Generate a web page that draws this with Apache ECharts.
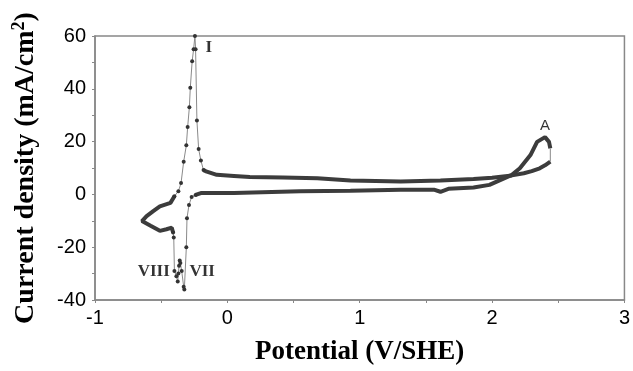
<!DOCTYPE html>
<html><head><meta charset="utf-8">
<script src="https://cdn.jsdelivr.net/npm/echarts@6/dist/echarts.min.js"></script>
<style>html,body{margin:0;padding:0;background:#fff}#c{width:633px;height:371px}</style>
</head><body><div id="c"></div>
<script>
// Reverse scan: from the anodic end back to the left (dense trace)
var reverseBranch = [[2.44,12.4],[2.40,11.0],[2.36,9.9],[2.30,8.8],[2.24,8.0],[2.15,7.2],[2.0,6.3],[1.86,5.8],[1.61,5.3],[1.31,4.9],[0.93,5.3],[0.68,6.1],[0.42,6.4],[0.17,6.6],[0.05,7.0],[-0.08,7.4],[-0.155,8.6],[-0.18,9.2]];
// Peak I (sparse dotted trace)
var peakI = [[-0.18,9.2],[-0.20,12.8],[-0.217,17.2],[-0.23,28.0],[-0.24,55.0],[-0.245,60.0],[-0.255,55.0],[-0.266,50.4],[-0.28,40.4],[-0.287,33.0],[-0.30,25.5],[-0.31,18.6],[-0.33,12.4],[-0.35,4.3],[-0.37,1.2],[-0.40,-0.7]];
// Cathodic loop to the left end (dense trace)
var cathodicLoop = [[-0.40,-0.7],[-0.43,-3.2],[-0.51,-4.5],[-0.56,-6.3],[-0.61,-8.2],[-0.645,-10.1],[-0.58,-11.9],[-0.51,-13.8],[-0.46,-13.2],[-0.42,-12.6],[-0.41,-14.4]];
// Peaks VIII and VII (sparse dotted trace)
var peaksVIIIVII = [[-0.41,-14.4],[-0.405,-16.3],[-0.40,-29.0],[-0.385,-31.0],[-0.375,-33.0],[-0.37,-30.0],[-0.365,-27.0],[-0.36,-25.0],[-0.355,-26.0],[-0.345,-29.0],[-0.33,-35.0],[-0.325,-36.0],[-0.31,-20.0],[-0.305,-9.0],[-0.29,-4.0],[-0.27,-1.0],[-0.24,-0.2]];
// Forward scan up to peak A (dense trace)
var forwardBranch = [[-0.24,-0.2],[-0.2,0.5],[0.05,0.5],[0.55,1.2],[0.93,1.4],[1.31,1.8],[1.56,1.8],[1.61,1.0],[1.67,2.1],[1.86,2.6],[1.98,3.6],[2.15,7.4],[2.21,9.9],[2.29,14.9],[2.34,19.9],[2.40,21.7],[2.43,19.9],[2.44,17.4]];
// Thin return at the anodic end
var anodicEnd = [[2.44,17.4],[2.44,12.4]];
// Peak labels
var peakLabels = [{name:'I', value:[-0.14,55.5]},{name:'VIII', value:[-0.556,-29.4]},{name:'VII', value:[-0.19,-29.4]}];
var peakLabelA = [{name:'A', value:[2.40,26.1]}];

var chart = echarts.init(document.getElementById('c'));
var dense = {type:'line', symbol:'none', lineStyle:{color:'#3c3c3c', width:4}, z:3, animation:false};
var sparse = {type:'line', symbol:'circle', symbolSize:4, itemStyle:{color:'#333'}, lineStyle:{color:'#8a8a8a', width:1}, z:4, animation:false};
chart.setOption({
  animation:false,
  grid:{left:95, right:8, top:36, bottom:68, show:true, borderColor:'#888', borderWidth:1.5, backgroundColor:'#fff'},
  xAxis:{type:'value', min:-1, max:3, interval:0.5,
    name:'Potential (V/SHE)', nameLocation:'middle', nameGap:39,
    nameTextStyle:{fontFamily:'Liberation Serif', fontWeight:'bold', fontSize:27, color:'#000'},
    axisLine:{onZero:false, lineStyle:{color:'#888', width:1.5}},
    axisTick:{inside:false, length:3, lineStyle:{color:'#888'}},
    axisLabel:{fontFamily:'Liberation Sans', fontSize:20, color:'#000', margin:8,
      formatter:function(v){return Math.abs(v-Math.round(v))<1e-9?String(Math.round(v)):'';}},
    splitLine:{show:false}},
  yAxis:{type:'value', min:-40, max:60, interval:10,
    name:'Current density (mA/cm{sup|2})', nameLocation:'middle', nameGap:54,
    nameTextStyle:{fontFamily:'Liberation Serif', fontWeight:'bold', fontSize:28, color:'#000',
      rich:{sup:{fontFamily:'Liberation Serif', fontWeight:'bold', fontSize:18, color:'#000', verticalAlign:'top', padding:[0,0,13,0]}}},
    axisLine:{onZero:false, lineStyle:{color:'#888', width:1.5}},
    axisTick:{inside:false, length:3, lineStyle:{color:'#888'}},
    axisLabel:{fontFamily:'Liberation Sans', fontSize:20, color:'#000', margin:9,
      formatter:function(v){return (Math.round(v)%20===0)?String(v):'';}},
    splitLine:{show:false}},
  series:[
    Object.assign({data:reverseBranch}, dense),
    Object.assign({data:peakI}, sparse),
    Object.assign({data:cathodicLoop}, dense),
    Object.assign({data:peaksVIIIVII}, sparse),
    Object.assign({data:forwardBranch}, dense),
    Object.assign({data:anodicEnd}, sparse, {symbol:'none'}),
    {type:'scatter', data:peakLabels, symbolSize:0, z:5,
      label:{show:true, position:'inside', formatter:'{b}', fontFamily:'Liberation Serif', fontWeight:'bold', fontSize:17, color:'#000'}},
    {type:'scatter', data:peakLabelA, symbolSize:0, z:5,
      label:{show:true, position:'inside', formatter:'{b}', fontFamily:'Liberation Sans', fontSize:15, color:'#000'}}
  ]
});
</script></body></html>
